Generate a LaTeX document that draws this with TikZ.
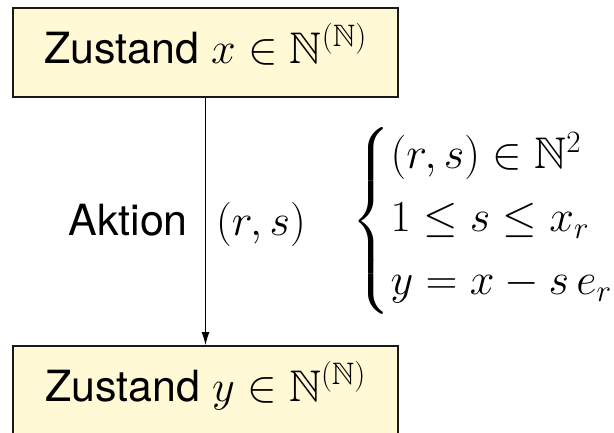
\documentclass[tikz,border=0pt]{standalone}
\usepackage{fix-cm}
\usepackage{amsmath,amssymb}
\usepackage[no-math]{fontspec}
\newfontfamily\heros[Scale=0.97]{TeX Gyre Heros}
\usetikzlibrary{arrows.meta}
\definecolor{boxfill}{RGB}{255,249,214}
\newcommand{\bigfnt}{\fontsize{44.3}{52}\selectfont}
\tikzset{
  statebox/.style={draw=black!90, line width=1.8pt, fill=boxfill, minimum width=385pt, minimum height=89pt, inner sep=0pt, text height=33pt, text depth=12pt},
  arr/.style={line width=1.2pt, -{Latex[length=13pt,width=8pt]}},
  lbl/.style={inner sep=0pt}
}
\begin{document}
\begin{tikzpicture}[x=1pt,y=-1pt, every node/.style={font=\bigfnt}]
\useasboundingbox (0,0) rectangle (614,432);
\node[statebox] (top) at (205.5,52.5) {\heros Zustand \(x\in\mathbb{N}^{(\mathbb{N})}\)};
\node[statebox] (bot) at (205.5,390.5) {\heros Zustand \(y\in\mathbb{N}^{(\mathbb{N})}\)};
\draw[arr] (top) -- (bot);
\node[lbl, anchor=base east] (akt) at (188,235) {\heros Aktion};
\node[lbl, anchor=base west] (rs) at (216,235) {\((r,s)\)};
\node[lbl, anchor=west] (cond) at (351,221) {\(\left\{\begin{array}{@{}l@{}}(r,s)\in\mathbb{N}^2\\[11pt] 1\le s\le x_r\\[11pt] y=x-s\,e_r\end{array}\right.\)};
\end{tikzpicture}
\end{document}
